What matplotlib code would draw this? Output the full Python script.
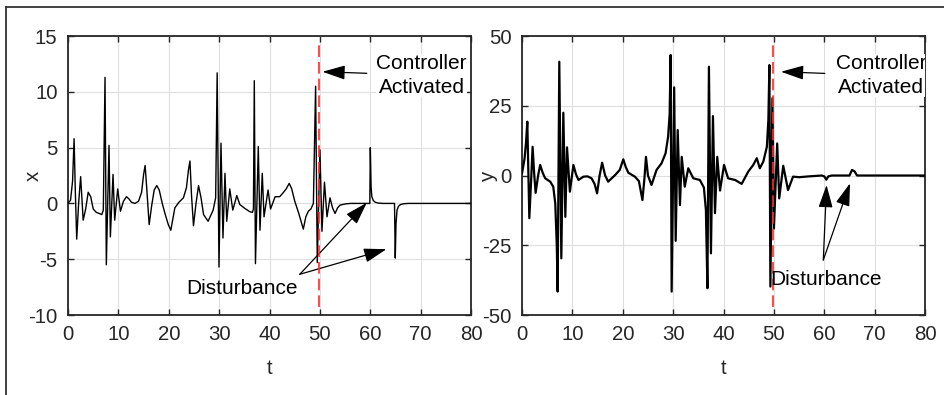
import numpy as np
import matplotlib
matplotlib.use("Agg")
import matplotlib.pyplot as plt
from matplotlib.lines import Line2D

plt.rcParams['font.family'] = ['Liberation Sans', 'DejaVu Sans']
plt.rcParams['axes.unicode_minus'] = False

# x(t) (peaks, troughs and a few points between)
t_x = [0, 0.5, 0.9, 1.2, 1.45, 1.72, 2.1, 2.5, 2.75, 3.0, 3.5, 4.0, 4.5, 5.0,
       5.6, 6.2, 6.7, 7.0, 7.34, 7.6, 8.13, 8.4, 8.93, 9.26, 9.86, 10.4, 11.0,
       11.6, 12.1, 12.6, 13.3, 14.0, 14.6, 15.0, 15.3, 15.6, 16.1, 16.6, 17.1,
       17.6, 18.1, 18.7, 19.3, 19.9, 20.4, 20.8, 21.2, 22.0, 22.9, 23.5, 23.9,
       24.2, 24.5, 24.9, 25.4, 25.9, 26.4, 26.9, 27.8, 28.8, 29.3, 29.6, 29.96,
       30.36, 30.75, 31.15, 31.5, 32.1, 32.7, 33.5, 34.1, 35.1, 36.1, 36.6,
       36.8, 36.97, 37.2, 37.76, 38.1, 38.55, 38.9, 39.7, 40.2, 41.1, 42.0,
       42.6, 43.3, 43.9, 44.4, 45.0, 45.8, 46.7, 47.2, 47.7, 48.2, 48.7, 49.14,
       49.47, 50.0, 50.4, 50.9, 51.4, 52.0, 52.5, 53.0, 53.5, 54.0, 55, 56, 58,
       59.9, 60.0, 60.15, 60.3, 60.6, 61.0, 61.6, 62.5, 64.8, 64.95, 65.1, 65.3,
       65.6, 66.0, 66.6, 67.5, 80]
x_vals = [0, 0.3, 2.0, 5.8, 1.0, -3.2, 0.0, 2.4, 0.5, -1.5, -0.5, 1.0, 0.6, -0.5,
          -0.8, -0.9, -1.0, -0.6, 11.3, -5.5, 5.2, -3.0, 2.6, -1.5, 1.3, -0.7, 0.2,
          0.6, 0.4, 0.1, 0.0, 0.2, 1.0, 2.6, 3.4, 1.5, -1.9, -0.2, 1.2,
          1.6, 1.2, 0.0, -1.0, -1.9, -2.4, -1.4, -0.4, 0.1, 0.5, 1.4, 3.0,
          3.8, 0.8, -2.0, 0.0, 1.6, 0.5, -1.0, -1.6, -0.6, 0.5, 11.7, -5.7,
          5.4, -3.1, 2.7, -1.6, 1.3, -0.6, 0.7, -0.1, -0.45, -0.75, -0.8,
          -0.5, 11.0, -5.4, 5.1, -2.4, 2.7, -1.2, 1.2, -0.5, 0.6, 0.6,
          0.9, 1.3, 1.8, 1.3, 0.2, -0.9, -2.3, -1.2, -0.7, -0.5, 0.0, 10.5,
          -5.3, 4.8, -2.5, 1.9, -1.2, 0.5, -0.4, -0.9, -0.4, -0.15, -0.05, 0, 0,
          0, 5.0, 1.5, 0.6, 0.25, 0.1, 0.03, 0, 0, -4.9, -1.8, -0.6,
          -0.25, -0.1, -0.03, 0, 0]

# y(t)
t_y = [0, 0.5, 0.8, 1.05, 1.25, 1.45, 1.8, 2.1, 2.4, 2.7, 3.2, 3.6, 4.1, 4.6,
       5.6, 6.2, 6.6, 6.9, 7.07, 7.4, 7.8, 8.2, 8.6, 8.93, 9.5, 10.2, 10.7,
       11.2, 12.2, 13.0, 13.8, 14.4, 14.9, 15.4, 15.9, 16.5, 17.1, 17.8, 18.5,
       19.4, 20.1, 20.6, 21.1, 22.4, 23.2, 23.9, 24.3, 24.6, 25.0, 25.7, 26.7,
       27.7, 28.5, 29.0, 29.3, 29.5, 29.7, 30.2, 30.5, 30.9, 31.35, 31.7, 32.3,
       33.0, 34.0, 35.3, 36.1, 36.5, 36.8, 37.1, 37.5, 37.9, 38.3, 38.75, 39.3,
       40.1, 40.9, 42.3, 43.6, 44.9, 45.9, 46.6, 47.2, 47.9, 48.6, 48.9, 49.1,
       49.3, 49.7, 50.0, 50.65, 51.05, 51.85, 52.8, 53.8, 55, 57, 59.5, 60.0,
       60.4, 60.8, 61.5, 65.0, 65.5, 66.0, 66.5, 80]
y_vals = [0.8, 6, 12, 19.3, 2, -15.3, -2, 10.3, 1, -6.2, 0, 3.8, 1, -1,
          -2.2, -4, -10, -25, -41.6, 40.8, -29.7, 22.5, -14.8, 10.1, -5.8, 3.8, 0.5,
          -1.6, -0.4, -0.3, -1, -3, -6.4, 0, 4.6, 0, -2.2, -1, 0.2,
          2, 5.8, 3, 1, -0.4, -2, -8.8, -1, 6.7, 0, -3.4, 2,
          4.4, 8, 14, 22, 43.2, -41.6, 31.6, -23.4, 16.3, -10.6, 6.7, -4,
          2.6, -1, -1.6, -4.3, -12.4, -40.4, 39, -27.9, 21.3, -13.5, 6.7, -5.4,
          3.8, -1, -1.6, -3, 1.4, 3.8, 6.2, 2.6, 5, 10.3, 20, 39.6,
          -39.8, 27.7, -19, 11.5, -8.2, 3.5, -5.2, -0.4, -0.6, -0.3, 0, -0.3,
          -1.5, -0.3, 0, 0, 2.0, 1.5, 0, 0]

t_ctrl = 49.8
x_ticks = [0, 10, 20, 30, 40, 50, 60, 70, 80]
x_yticks = [-10, -5, 0, 5, 10, 15]
y_yticks = [-50, -25, 0, 25, 50]

fig = plt.figure(figsize=(9.45, 3.95), dpi=100)
ax1 = fig.add_axes([0.0720, 0.2025, 0.4265, 0.7063])
ax2 = fig.add_axes([0.5524, 0.2025, 0.4265, 0.7063])

ax1.plot(t_x, x_vals, color='k', lw=1.0, zorder=3)
ax2.plot(t_y, y_vals, color='k', lw=1.6, zorder=3)

ax1.axvline(t_ctrl, ymin=0.028, ymax=0.98, color='#ff2a2a', lw=1.2,
            dashes=(7, 3), zorder=4)
ax2.axvline(t_ctrl, ymin=0.03, ymax=0.98, color='#ff2a2a', lw=1.2,
            dashes=(7, 3), zorder=4)

for ax, yt, lab in [(ax1, x_yticks, 'x'), (ax2, y_yticks, 'y')]:
    ax.set_xlim(0, 80)
    ax.set_ylim(yt[0], yt[-1])
    ax.set_xticks(x_ticks)
    ax.set_yticks(yt)
    ax.grid(True, color='#dedede', lw=0.8)
    ax.set_axisbelow(True)
    ax.tick_params(direction='in', length=4, width=1, top=True, right=True,
                   labelsize=14.7, labelcolor='#262626', pad=7.5, color='#262626')
    for s in ax.spines.values():
        s.set_linewidth(1.3)
        s.set_color('#262626')
    ax.set_xlabel('t', fontsize=14.7, color='#262626', va='center')
    ax.xaxis.set_label_coords(0.5, -0.19)
    ax.set_ylabel(lab, fontsize=14.7, color='#262626', va='center')

ax1.yaxis.set_label_coords(-0.087, 0.5)
ax2.yaxis.set_label_coords(-0.084, 0.5)

head = '-|>,head_length=0.7,head_width=0.22'
arr = dict(arrowstyle=head, color='k', lw=0.9, mutation_scale=20,
           shrinkA=0, shrinkB=0)

# controller activated notes
ax1.text(70.2, 11.46, 'Controller\nActivated', ha='center', va='center',
         fontsize=15, linespacing=1.3, zorder=5,
         bbox=dict(facecolor='white', edgecolor='none', pad=0))
ax1.annotate('', xy=(50.5, 11.8), xytext=(59.3, 11.66), arrowprops=arr)
ax2.text(71.3, 35.8, 'Controller\nActivated', ha='center', va='center',
         fontsize=15, linespacing=1.3, zorder=5, clip_on=True,
         bbox=dict(facecolor='white', edgecolor='none', pad=0))
ax2.annotate('', xy=(51.4, 37.2), xytext=(60.1, 36.6), arrowprops=arr)

# disturbance notes
ax1.text(34.5, -7.6, 'Disturbance', ha='center', va='center', fontsize=15, zorder=5)
ax1.annotate('', xy=(59.3, 0.06), xytext=(46, -6.35), arrowprops=arr)
ax1.annotate('', xy=(63.2, -4.1), xytext=(46, -6.35), arrowprops=arr)
ax2.text(60.4, -37.1, 'Disturbance', ha='center', va='center', fontsize=15, zorder=5)
ax2.annotate('', xy=(60.45, -3.4), xytext=(59.8, -30.3), arrowprops=arr)
ax2.annotate('', xy=(65.1, -2.8), xytext=(59.8, -30.3), arrowprops=arr)

# frame lines at the left and top of the figure
fig.add_artist(Line2D([6.5 / 945, 6.5 / 945], [0, 1 - 6.5 / 395],
                      transform=fig.transFigure, color='#333333', lw=1.3))
fig.add_artist(Line2D([6.5 / 945, 1], [1 - 6.5 / 395, 1 - 6.5 / 395],
                      transform=fig.transFigure, color='#333333', lw=1.3))

fig.savefig('out.png', dpi=100)
